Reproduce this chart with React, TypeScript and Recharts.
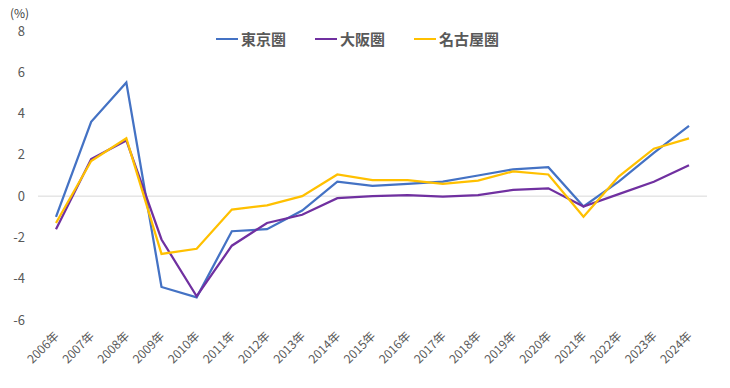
import { Legend, Line, LineChart, ReferenceLine, XAxis, YAxis } from "recharts"

const years = [
  "2006年", "2007年", "2008年", "2009年", "2010年", "2011年", "2012年", "2013年", "2014年", "2015年",
  "2016年", "2017年", "2018年", "2019年", "2020年", "2021年", "2022年", "2023年", "2024年",
]

const tokyo = [-1.0, 3.6, 5.5, -4.4, -4.9, -1.7, -1.6, -0.7, 0.7, 0.5, 0.6, 0.7, 1.0, 1.3, 1.4, -0.5, 0.7, 2.1, 3.4]
const osaka = [-1.6, 1.8, 2.7, -2.1, -4.85, -2.4, -1.3, -0.9, -0.1, 0.0, 0.05, -0.02, 0.05, 0.3, 0.38, -0.5, 0.1, 0.7, 1.5]
const nagoya = [-1.3, 1.7, 2.8, -2.8, -2.55, -0.65, -0.45, 0.0, 1.05, 0.78, 0.78, 0.6, 0.75, 1.2, 1.05, -1.0, 0.95, 2.3, 2.8]

const yTicks = [-6, -4, -2, 0, 2, 4, 6, 8]

const series = [
  { key: "tokyo", name: "東京圏", color: "#4472C4" },
  { key: "osaka", name: "大阪圏", color: "#7030A0" },
  { key: "nagoya", name: "名古屋圏", color: "#FFC000" },
]

const data = years.map((year, i) => ({
  year,
  tokyo: tokyo[i],
  osaka: osaka[i],
  nagoya: nagoya[i],
}))

const font = "'Noto Sans CJK JP', 'Noto Sans', sans-serif"

function YearTick(props: any) {
  const { x, y, payload } = props
  return (
    <g transform={`translate(${x + 1},${y + 6})`}>
      <text x={0} y={0} dy={4} textAnchor="end" transform="rotate(-45)" fill="#595959" fontSize={12} fontFamily={font}>
        {payload.value}
      </text>
    </g>
  )
}

function TopLegend() {
  return (
    <div style={{ display: "flex", justifyContent: "center", gap: 29, fontFamily: font, fontSize: 15, fontWeight: 700, color: "#595959" }}>
      {series.map((s) => (
        <div key={s.key} style={{ display: "flex", alignItems: "center" }}>
          <span style={{ display: "inline-block", width: 22, height: 2, background: s.color, marginRight: 3 }} />
          <span>{s.name}</span>
        </div>
      ))}
    </div>
  )
}

export default function App() {
  return (
    <div style={{ position: "fixed", left: 0, top: 0, width: 730, height: 388, background: "#fff" }}>
      <div style={{ position: "absolute", left: 10, top: 7, fontFamily: font, fontSize: 12, lineHeight: "11px", color: "#404040" }}>(%)</div>
      <LineChart width={730} height={388} data={data} margin={{ top: 31, right: 23, bottom: 0, left: 0 }}>
        <ReferenceLine y={0} stroke="#D9D9D9" strokeWidth={1} />
        <XAxis
          dataKey="year"
          axisLine={false}
          tickLine={false}
          interval={0}
          height={68}
          padding={{ left: 18, right: 18 }}
          tick={<YearTick />}
        />
        <YAxis
          domain={[-6, 8]}
          ticks={yTicks}
          axisLine={false}
          tickLine={false}
          width={38}
          tick={{ fill: "#595959", fontSize: 13, fontFamily: font, dx: -5 }}
        />
        <Legend
          verticalAlign="middle"
          align="center"
          layout="horizontal"
          wrapperStyle={{ top: 28, left: 0, width: 715 }}
          content={() => <TopLegend />}
        />
        {series.map((s) => (
          <Line
            key={s.key}
            dataKey={s.key}
            name={s.name}
            stroke={s.color}
            strokeWidth={2.25}
            dot={false}
            isAnimationActive={false}
          />
        ))}
      </LineChart>
    </div>
  )
}
